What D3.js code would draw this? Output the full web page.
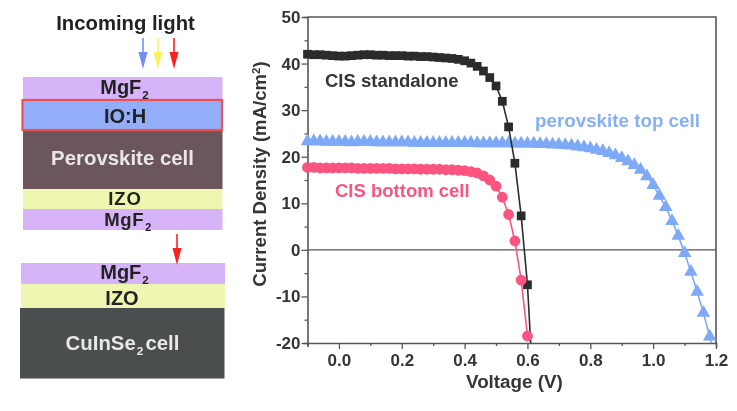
<!DOCTYPE html>
<html><head><meta charset="utf-8">
<script src="https://cdn.jsdelivr.net/npm/d3@7/dist/d3.min.js"></script>
<style>html,body{margin:0;background:#fff}svg{display:block;filter:blur(.55px)}text{font-family:"Liberation Sans",Arial,sans-serif;font-weight:700}</style>
</head><body><svg id="c" width="737" height="411"></svg>
<script>
const standaloneV=[-0.1,-0.08,-0.06,-0.04,-0.02,0,0.02,0.04,0.06,0.08,0.1,0.12,0.14,0.16,0.18,0.2,0.22,0.24,0.26,0.28,0.3,0.32,0.34,0.36,0.38,0.4,0.42,0.44,0.46,0.48,0.5,0.52,0.54,0.56,0.58,0.6,0.62];
const standaloneJ=[42,41.9,41.9,41.8,41.7,41.6,41.6,41.7,41.8,41.9,41.9,41.8,41.8,41.7,41.7,41.7,41.6,41.6,41.5,41.5,41.4,41.3,41.2,41.1,40.9,40.6,40.1,39.4,38.4,37,35.2,31.9,26.4,18.6,7.3,-7.5,-32];
const perovV=[-0.1,-0.08,-0.06,-0.04,-0.02,0,0.02,0.04,0.06,0.08,0.1,0.12,0.14,0.16,0.18,0.2,0.22,0.24,0.26,0.28,0.3,0.32,0.34,0.36,0.38,0.4,0.42,0.44,0.46,0.48,0.5,0.52,0.54,0.56,0.58,0.6,0.62,0.64,0.66,0.68,0.7,0.72,0.74,0.76,0.78,0.8,0.82,0.84,0.86,0.88,0.9,0.92,0.94,0.96,0.98,1,1.02,1.04,1.06,1.08,1.1,1.12,1.14,1.16,1.18,1.2];
const perovJ=[23.3,23.3,23.3,23.2,23.2,23.2,23.2,23.1,23.2,23.2,23.2,23.1,23.1,23.1,23.1,23.1,23.1,23,23,23,23,23,23,23,23,23,23,22.9,22.9,22.9,22.9,22.9,22.9,22.8,22.8,22.8,22.8,22.7,22.7,22.6,22.6,22.5,22.4,22.2,22,21.8,21.5,21.2,20.8,20.3,19.7,19,18.2,17.2,15.8,13.9,11.6,9.2,6.2,3,-0.7,-4.7,-9,-13.5,-18.6,-24];
const bottomV=[-0.1,-0.08,-0.06,-0.04,-0.02,0,0.02,0.04,0.06,0.08,0.1,0.12,0.14,0.16,0.18,0.2,0.22,0.24,0.26,0.28,0.3,0.32,0.34,0.36,0.38,0.4,0.42,0.44,0.46,0.48,0.5,0.52,0.54,0.56,0.58,0.6];
const bottomJ=[17.7,17.7,17.6,17.6,17.6,17.6,17.6,17.6,17.5,17.5,17.5,17.5,17.5,17.5,17.4,17.4,17.4,17.4,17.3,17.3,17.3,17.3,17.2,17.2,17.1,17,16.8,16.5,15.9,15,13.7,11.3,7.6,1.9,-6.5,-18.5];
const xTicks=[0,0.2,0.4,0.6,0.8,1.0,1.2];
const yTicks=[-20,-10,0,10,20,30,40,50];
const layers=[["MgF",23,77,100,199.5,"#d7b3f8"],["IO:H",23,100,131,199.5,"#93aef8"],["Perovskite cell",23,131,189,199.5,"#6b565c"],["IZO",23,189,209,199.5,"#eef6b2"],["MgF",23,209,230,199.5,"#d7b3f8"],["MgF",21,263,284,204,"#d7b3f8"],["IZO",21,284,308,204,"#eef6b2"],["CuInSe",20,308,378.5,204.5,"#4a4e4e"]];
const arrowX=[143,158,174,177],arrowY0=[38,38,38,234],arrowColor=["#6f8ff5","#f7f55a","#fb2222","#fb2222"];

const svg=d3.select("#c");
const x=d3.scaleLinear().domain([-0.1,1.2]).range([307.5,716]);
const y=d3.scaleLinear().domain([-20,50]).range([343,17]);
const ink="#333536",axisCol="#555657";

svg.selectAll("rect.l").data(layers).join("rect").attr("class","l")
 .attr("x",d=>d[1]).attr("y",d=>d[2]).attr("width",d=>d[4]).attr("height",d=>d[3]-d[2]).attr("fill",d=>d[5]);
svg.append("rect").attr("x",22.5).attr("y",100).attr("width",199.5).attr("height",30).attr("fill","none").attr("stroke","#f2504f").attr("stroke-width",2.2);
function label(t,cx,yy,sub,col,fs){
  const tx=svg.append("text").attr("x",cx).attr("y",yy).attr("text-anchor","middle").attr("font-size",fs).attr("fill",col).text(t);
  if(sub) tx.append("tspan").attr("font-size",fs*.58).attr("dy",5).attr("dx",1).text("2");
  return tx;
}
label("MgF",124.5,94,true,"#222",20);
label("IO:H",125,122.5,false,"#222",20);
label("Perovskite cell",122.5,165,false,"#e9e6e6",20.4);
label("IZO",125,205,false,"#222",18.5).attr("letter-spacing",0.9);
label("MgF",128,226,true,"#222",18.5).attr("letter-spacing",0.6);
label("MgF",124.5,278.5,true,"#222",20);
label("IZO",122,305,false,"#222",20);
const cu=label("CuInSe",122.5,349.5,true,"#e8e8e8",20.4);
cu.append("tspan").attr("dy",-5).attr("dx",2).text("cell");
label("Incoming light",125.5,30,false,"#222",20.3);
arrowX.forEach((ax,i)=>{
  const y0=arrowY0[i],c=arrowColor[i];
  svg.append("line").attr("x1",ax).attr("x2",ax).attr("y1",y0).attr("y2",y0+16).attr("stroke",c).attr("stroke-width",1.6);
  svg.append("path").attr("d",`M${ax-4.5},${y0+14}L${ax+4.5},${y0+14}L${ax},${y0+31}Z`).attr("fill",c);
});

svg.append("clipPath").attr("id","pc").append("rect").attr("x",307.5).attr("y",17).attr("width",408.5).attr("height",326);

const xa=d3.axisBottom(x).tickValues(d3.range(-1,13).map(d=>d/10)).tickFormat(d=>xTicks.some(t=>Math.abs(t-d)<1e-9)?d3.format(".1f")(d):"").tickSize(4).tickPadding(7);
const ya=d3.axisLeft(y).tickValues(d3.range(-20,55,5)).tickFormat(d=>yTicks.includes(d)?d:"").tickSize(4).tickPadding(3);
const gx=svg.append("g").attr("transform","translate(0,343)").call(xa);
const gy=svg.append("g").attr("transform","translate(307.5,0)").call(ya);
[gx,gy].forEach(g=>{g.select(".domain").attr("stroke",axisCol).attr("stroke-width",1.6);
  g.selectAll("line").attr("stroke",axisCol).attr("stroke-width",1.3);
  g.selectAll("text").attr("font-size",17).attr("fill",ink).style("font-family",'"Liberation Sans",Arial,sans-serif').style("font-weight",700);});
gy.selectAll("line").attr("x2",d=>yTicks.includes(d)?-6:-3);
gx.selectAll("line").attr("y2",d=>xTicks.some(t=>Math.abs(t-d)<1e-9)?6:3);
svg.append("path").attr("d",`M307.5,17H716V343`).attr("fill","none").attr("stroke",axisCol).attr("stroke-width",1.6);
svg.append("line").attr("x1",x(-0.1)).attr("x2",x(1.2)).attr("y1",y(0)).attr("y2",y(0)).attr("stroke",axisCol).attr("stroke-width",1.4);

const line=d3.line();
function series(vs,js,col,sym,size){
  const pts=vs.map((v,i)=>[x(v),y(js[i])]);
  svg.append("path").attr("clip-path","url(#pc)").attr("d",line(pts)).attr("fill","none").attr("stroke",col).attr("stroke-width",1.6);
  svg.selectAll(null).data(pts.filter((p,i)=>js[i]>=-20&&vs[i]<1.2)).join("path")
    .attr("transform",d=>`translate(${d[0]},${d[1]})`).attr("d",d3.symbol(sym,size)()).attr("fill",col);
}
series(perovV,perovJ,"#7da9f6",d3.symbolTriangle,80);
series(standaloneV,standaloneJ,"#2a2c2c",d3.symbolSquare,76);
series(bottomV,bottomJ,"#fb5480",d3.symbolCircle,92);

const t=(s,xx,yy,col,fs)=>svg.append("text").attr("x",xx).attr("y",yy).attr("font-size",fs).attr("fill",col).text(s);
t("CIS standalone",325,87,ink,18.5);
t("CIS bottom cell",335,197,"#fb5480",18.5);
t("perovskite top cell",535,127,"#86b0f6",18.8);
t("Voltage (V)",466,388,ink,18.8);
const yl=svg.append("text").attr("transform","translate(266,174) rotate(-90)").attr("text-anchor","middle").attr("font-size",18.6).attr("fill",ink).text("Current Density (mA/cm");
yl.append("tspan").attr("font-size",11.5).attr("dy",-6).text("2");
yl.append("tspan").attr("dy",6).text(")");
</script></body></html>
